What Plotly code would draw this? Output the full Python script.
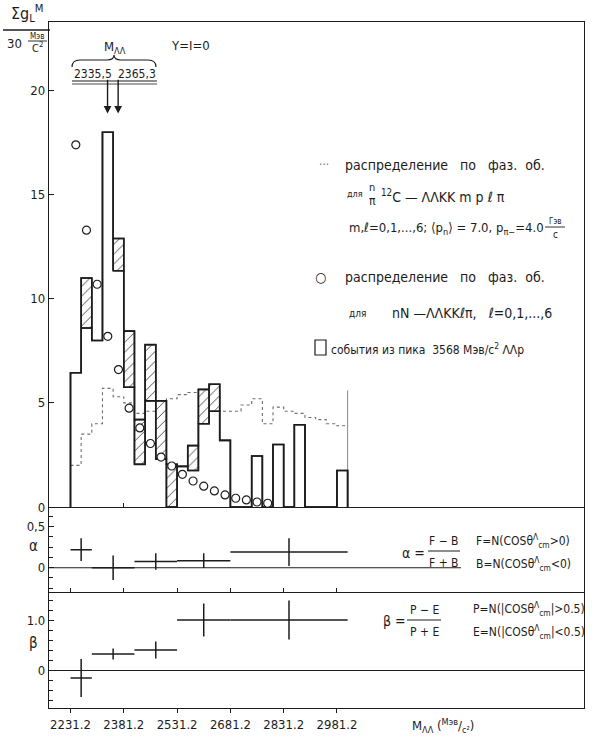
import plotly.graph_objects as go
from plotly.subplots import make_subplots

# ---------------- data ----------------
BIN_START = 2231.2
BIN_WIDTH = 30.0
# two overlaid event histograms (hatched between them where they differ)
hist_a = [6.45, 11.0, 8.0, 18.0, 12.9, 8.45, 4.2, 7.8, 5.1, 2.05, 1.95, 2.95, 5.65,
          5.9, 3.2, 0, 0, 2.45, 0, 3.0, 0, 3.95, 0, 0, 0, 1.75]
hist_b = [6.45, 8.6, 8.0, 18.0, 11.35, 5.75, 2.05, 5.1, 2.3, 0.0, 1.95, 1.75, 4.0,
          4.6, 3.2, 0, 0, 2.45, 0, 3.0, 0, 3.95, 0, 0, 0, 1.75]
# phase space n/pi 12C -> LLKK m p l pi (dotted)
phase_space_12C = [2.0, 3.5, 4.0, 5.7, 5.3, 5.0, 4.5, 4.6, 4.9, 5.2, 5.4, 5.5, 5.5,
                   5.3, 4.6, 4.6, 4.9, 5.2, 4.0, 4.8, 4.6, 4.5, 4.3, 4.2, 4.0, 3.9]
# phase space nN -> LLKK l pi (circles)
phase_space_nN = [17.4, 13.3, 10.7, 8.2, 6.6, 4.75, 3.8, 3.05, 2.4, 1.97, 1.57, 1.25,
                  1.0, 0.77, 0.58, 0.42, 0.34, 0.24, 0.18]
kinematic_limit = 3011.2
kinematic_limit_height = 5.6

mll_marks = [2335.5, 2365.3]

asym_lo = [2231.2, 2291.2, 2411.2, 2531.2, 2681.2]
asym_hi = [2291.2, 2411.2, 2531.2, 2681.2, 3011.2]
alpha_vals = [0.22, 0.0, 0.075, 0.085, 0.19]
alpha_errs = [0.14, 0.15, 0.10, 0.09, 0.17]
beta_vals = [-0.16, 0.32, 0.40, 1.0, 1.0]
beta_errs = [0.38, 0.11, 0.17, 0.33, 0.39]
alpha_zero_end = 3330

x_tick_vals = [2231.2, 2381.2, 2531.2, 2681.2, 2831.2, 2981.2]
x_tick_text = ["2231.2", "2381.2", "2531.2", "2681.2", "2831.2", "2981.2"]
main_y_ticks = [0, 5, 10, 15, 20]

X_RANGE = [2170.7, 3676.5]

# ---------------- helpers ----------------
W, H = 595, 742
ML, MR, MT, MB = 49, 11, 22, 34
PW, PH = W - ML - MR, H - MT - MB


def P(px, py):
    return (px - ML) / PW, (H - MB - py) / PH


edges = [BIN_START + i * BIN_WIDTH for i in range(len(hist_a) + 1)]
centers = [e + BIN_WIDTH / 2 for e in edges[:-1]]


def step(vals, close=True):
    xs, ys = ([edges[0]], [0]) if close else ([], [])
    for i, v in enumerate(vals):
        xs += [edges[i], edges[i + 1]]
        ys += [v, v]
    if close:
        xs.append(edges[len(vals)])
        ys.append(0)
    return xs, ys


def hatch_polys(a, b):
    xs, ys = [], []
    for i, (va, vb) in enumerate(zip(a, b)):
        if abs(va - vb) > 1e-9:
            lo, hi = min(va, vb), max(va, vb)
            xs += [edges[i], edges[i], edges[i + 1], edges[i + 1], edges[i], None]
            ys += [lo, hi, hi, lo, lo, None]
    return xs, ys


FONT = "Liberation Sans Narrow, DejaVu Sans Condensed, DejaVu Sans, sans-serif"
INK = "#1c1c1c"

fig = make_subplots(rows=3, cols=1, shared_xaxes=True, vertical_spacing=0)

# dotted phase space
dx, dy = step(phase_space_12C, close=False)
fig.add_trace(go.Scatter(x=dx, y=dy, mode="lines",
                         line=dict(color="#6e6e6e", width=1.1, dash="dot")), 1, 1)
fig.add_trace(go.Scatter(x=[kinematic_limit, kinematic_limit], y=[0, kinematic_limit_height],
                         mode="lines", line=dict(color="#888", width=1)), 1, 1)
# hatched regions
hx, hy = hatch_polys(hist_a, hist_b)
fig.add_trace(go.Scatter(x=hx, y=hy, mode="lines", fill="toself", fillcolor="white",
                         fillpattern=dict(shape="/", fgcolor="#333", bgcolor="white",
                                          size=7, solidity=0.12, fillmode="replace"),
                         line=dict(color=INK, width=1.5)), 1, 1)
# outlines
for vals in (hist_a, hist_b):
    sx, sy = step(vals)
    fig.add_trace(go.Scatter(x=sx, y=sy, mode="lines",
                             line=dict(color=INK, width=1.6)), 1, 1)
# circles
fig.add_trace(go.Scatter(x=centers[:len(phase_space_nN)], y=phase_space_nN, mode="markers",
                         marker=dict(symbol="circle", size=8, color="white",
                                     line=dict(color=INK, width=1.2))), 1, 1)

# alpha / beta crosses
a_cent = [(l + h) / 2 for l, h in zip(asym_lo, asym_hi)]
a_half = [(h - l) / 2 for l, h in zip(asym_lo, asym_hi)]
fig.add_trace(go.Scatter(x=[X_RANGE[0], alpha_zero_end], y=[0, 0], mode="lines",
                         line=dict(color=INK, width=1.1)), 2, 1)
for row, vals, errs in ((2, alpha_vals, alpha_errs), (3, beta_vals, beta_errs)):
    fig.add_trace(go.Scatter(
        x=a_cent, y=vals, mode="markers", marker=dict(size=1, color=INK),
        error_x=dict(type="data", array=a_half, width=0, thickness=1.5, color=INK),
        error_y=dict(type="data", array=errs, width=0, thickness=1.5, color=INK)), row, 1)

# ---------------- axes ----------------
for r in (1, 2, 3):
    fig.update_xaxes(range=X_RANGE, tickvals=x_tick_vals, ticktext=x_tick_text,
                     ticks="inside" if r < 3 else "outside", ticklen=4, tickcolor=INK,
                     showticklabels=(r == 3),
                     tickfont=dict(family=FONT, size=13, color=INK),
                     showline=True, mirror=(r == 1), linecolor=INK, linewidth=1.3,
                     showgrid=False, zeroline=False, row=r, col=1)
yframe = dict(showline=True, mirror=True, linecolor=INK, linewidth=1.3, showgrid=False,
              zeroline=False, tickcolor=INK, ticks="inside", ticklen=5,
              tickfont=dict(family=FONT, size=13, color=INK))
fig.update_yaxes(range=[0, 23.3], tickvals=main_y_ticks,
                 domain=[P(0, 507)[1], 1], row=1, col=1, **yframe)
fig.update_yaxes(range=[-0.293, 0.74], tickvals=[0, 0.5], ticktext=["0", "0,5"],
                 minor=dict(dtick=0.125, ticks="inside", ticklen=4, tickcolor=INK),
                 domain=[P(0, 591.7)[1], P(0, 507)[1]], row=2, col=1, **yframe)
fig.update_yaxes(range=[-0.76, 1.566], tickvals=[0, 1.0], ticktext=["0", "1.0"],
                 minor=dict(dtick=0.2, ticks="inside", ticklen=4, tickcolor=INK),
                 domain=[0, P(0, 591.7)[1]], row=3, col=1, **yframe)
fig.update_yaxes(zeroline=True, zerolinecolor=INK, zerolinewidth=1.1, row=3, col=1)

# ---------------- annotations ----------------
ann = []


def T(px, py, text, size=11, anchor="left", color=INK):
    x, y = P(px, py)
    ann.append(dict(x=x, y=y, xref="paper", yref="paper", text=text, showarrow=False,
                    xanchor=anchor, yanchor="middle",
                    font=dict(family=FONT, size=size, color=color)))


shapes = []


def L(x0, y0, x1, y1, w=1.2):
    a, b = P(x0, y0)
    c, d = P(x1, y1)
    shapes.append(dict(type="line", xref="paper", yref="paper", x0=a, y0=b, x1=c, y1=d,
                       line=dict(color=INK, width=w)))


# y-axis title
T(27, 13, "Σg<sub>L</sub><sup>M</sup>", 16, "center")
L(3, 30, 50, 30, 1.3)
T(14, 43, "30", 13, "center")
T(37, 36, "Mэв", 8, "center")
L(28, 41, 47, 41, 0.9)
T(37, 48, "C<sup>2</sup>", 11, "center")

# M_LL indicators
T(115, 47, "M<sub>ΛΛ</sub>", 13, "center")
T(190, 45, "Y=I=0", 13, "center")
pts = [P(72, 67), P(72, 60), P(80, 60), P(107, 60), P(114, 60), P(114, 55),
       P(114, 60), P(121, 60), P(148, 60), P(156, 60), P(156, 67)]
d = "M {:.5f} {:.5f} Q {:.5f} {:.5f} {:.5f} {:.5f} L {:.5f} {:.5f} Q {:.5f} {:.5f} {:.5f} {:.5f} " \
    "Q {:.5f} {:.5f} {:.5f} {:.5f} L {:.5f} {:.5f} Q {:.5f} {:.5f} {:.5f} {:.5f}".format(
        *[c for p in pts for c in p])
shapes.append(dict(type="path", xref="paper", yref="paper", path=d,
                   line=dict(color=INK, width=1.2)))
T(93, 74, "2335,5", 12, "center")
T(137, 74, "2365,3", 12, "center")
L(72, 81, 157, 81, 1.1)
L(72, 84, 157, 84, 0.8)
for m in mll_marks:
    ann.append(dict(x=m, y=18.9, xref="x", yref="y", ax=m, ay=20.6, axref="x", ayref="y",
                    showarrow=True, arrowhead=2, arrowsize=1.1, arrowwidth=1.4,
                    arrowcolor=INK, text=""))

# legend-like texts
T(317, 165, "···", 12, color="#777")
T(343, 165, "распределение   по   фаз.  об.", 14)
T(345, 194, "для", 9)
T(372, 188, "n", 11, "center")
T(372, 201, "π", 12, "center")
T(379, 196, "<sup>12</sup>C — ΛΛKK m p ℓ π", 14)
T(347, 228, "m,ℓ=0,1,...,6; ⟨p<sub>n</sub>⟩ = 7.0, p<sub>π−</sub>=4.0", 13)
T(555, 221, "Гэв", 8, "center")
L(545, 227, 565, 227, 0.9)
T(555, 234, "c", 10, "center")
T(313, 277, "○", 14)
T(343, 277, "распределение   по   фаз.  об.", 14)
T(347, 313, "для", 10)
T(390, 313, "nN —ΛΛKKℓπ,   ℓ=0,1,...,6", 14)
a0, b0 = P(315, 355)
a1, b1 = P(326, 340)
shapes.append(dict(type="rect", xref="paper", yref="paper", x0=a0, y0=b0, x1=a1, y1=b1,
                   line=dict(color=INK, width=1.2)))
T(329, 349, "события из пика  3568 Mэв/c<sup>2</sup> ΛΛp", 12)

# alpha panel texts
T(33, 546, "α", 15, "center")
T(400, 553, "α =", 14)
T(444, 541, "F − B", 12, "center")
L(428, 551, 460, 551, 1.0)
T(444, 563, "F + B", 12, "center")
T(474, 541, "F=N(COSθ<sup>Λ</sup><sub>cm</sub>>0)", 12)
T(474, 564, "B=N(COSθ<sup>Λ</sup><sub>cm</sub><0)", 12)

# beta panel texts
T(33, 643, "β", 15, "center")
T(381, 621, "β =", 14)
T(424, 610, "P − E", 12, "center")
L(407, 620, 441, 620, 1.0)
T(424, 632, "P + E", 12, "center")
T(471, 609, "P=N(|COSθ<sup>Λ</sup><sub>cm</sub>|>0.5)", 12)
T(471, 632, "E=N(|COSθ<sup>Λ</sup><sub>cm</sub>|<0.5)", 12)

# x axis title
T(410, 726, "M<sub>ΛΛ</sub> (<sup>Mэв</sup>/<sub>c²</sub>)", 13)

fig.update_layout(width=W, height=H, margin=dict(l=ML, r=MR, t=MT, b=MB),
                  paper_bgcolor="white", plot_bgcolor="white", showlegend=False,
                  annotations=ann, shapes=shapes)
fig.write_html("out.html")
